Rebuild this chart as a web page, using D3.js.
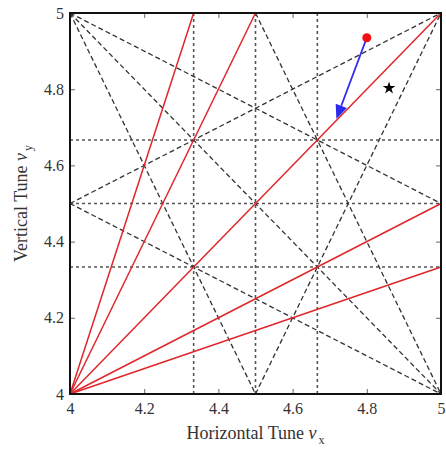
<!DOCTYPE html>
<html><head><meta charset="utf-8">
<script src="https://cdn.jsdelivr.net/npm/d3@7"></script>
<style>body{margin:0;background:#fff}</style>
</head><body><svg id="c" width="446" height="449"></svg>
<script>
// Data
const xTicks = [4, 4.2, 4.4, 4.6, 4.8, 5];
const yTicks = [4, 4.2, 4.4, 4.6, 4.8, 5];
// grid (integer/half/third resonances): vertical and horizontal
const gridX = [13/3, 4.5, 14/3];
const gridY = [13/3, 4.5, 14/3];
// black dashed resonance lines: [x1,y1,x2,y2]
const dashedLines = [
  [4, 5, 4.5, 4], [4, 5, 5, 4], [4, 5, 5, 4.5],
  [4, 4.5, 5, 5], [4, 4.5, 5, 4],
  [4.5, 4, 5, 5], [4.5, 5, 5, 4]
];
// red resonance lines from (4,4)
const redLines = [
  [4, 4, 13/3, 5], [4, 4, 4.5, 5], [4, 4, 5, 5], [4, 4, 5, 4.5], [4, 4, 5, 13/3]
];
const startPoint = [4.80, 4.935];
const arrowEnd = [4.718, 4.722];
const starPoint = [4.86, 4.803];

const svg = d3.select("#c");
const L = 70, R = 441, T = 13, B = 394;
const x = d3.scaleLinear().domain([4, 5]).range([L, R]);
const y = d3.scaleLinear().domain([4, 5]).range([B, T]);

const g = svg.append("g");
// grid
g.selectAll(".gx").data(gridX).join("line")
  .attr("x1", d => x(d)).attr("x2", d => x(d)).attr("y1", y(4)).attr("y2", y(5))
  .attr("stroke", "#555").attr("stroke-width", 1.6).attr("stroke-dasharray", "3,3");
g.selectAll(".gy").data(gridY).join("line")
  .attr("y1", d => y(d)).attr("y2", d => y(d)).attr("x1", x(4)).attr("x2", x(5))
  .attr("stroke", "#555").attr("stroke-width", 1.6).attr("stroke-dasharray", "3,3");
// dashed lines
g.selectAll(".dl").data(dashedLines).join("line")
  .attr("x1", d => x(d[0])).attr("y1", d => y(d[1])).attr("x2", d => x(d[2])).attr("y2", d => y(d[3]))
  .attr("stroke", "#333").attr("stroke-width", 1.3).attr("stroke-dasharray", "5,3");
// red lines
g.selectAll(".rl").data(redLines).join("line")
  .attr("x1", d => x(d[0])).attr("y1", d => y(d[1])).attr("x2", d => x(d[2])).attr("y2", d => y(d[3]))
  .attr("stroke", "#e0262b").attr("stroke-width", 1.5);

// arrow
const ax1 = x(startPoint[0]), ay1 = y(startPoint[1]), ax2 = x(arrowEnd[0]), ay2 = y(arrowEnd[1]);
const ang = Math.atan2(ay2 - ay1, ax2 - ax1);
const hl = 14, hw = 6;
const bx = ax2 - hl * Math.cos(ang), by = ay2 - hl * Math.sin(ang);
g.append("line").attr("x1", ax1).attr("y1", ay1).attr("x2", bx).attr("y2", by)
  .attr("stroke", "#2b2bf0").attr("stroke-width", 1.8);
g.append("path")
  .attr("d", `M${ax2},${ay2} L${bx + hw*Math.sin(ang)},${by - hw*Math.cos(ang)} L${bx - hw*Math.sin(ang)},${by + hw*Math.cos(ang)} Z`)
  .attr("fill", "#2b2bf0");
g.append("circle").attr("cx", ax1).attr("cy", ay1).attr("r", 4.5).attr("fill", "#f01010");
g.append("path").attr("d", d3.symbol(d3.symbolStar, 50)())
  .attr("transform", `translate(${x(starPoint[0])},${y(starPoint[1])})`).attr("fill", "#000");

// axes
const font = "Liberation Serif, Times New Roman, serif";
const ax = g.append("g").attr("transform", `translate(0,${B})`)
  .call(d3.axisBottom(x).tickValues(xTicks).tickFormat(d3.format("")).tickSizeInner(-5).tickSizeOuter(0).tickPadding(9));
const ay = g.append("g").attr("transform", `translate(${L},0)`)
  .call(d3.axisLeft(y).tickValues(yTicks).tickFormat(d3.format("")).tickSizeInner(-5).tickSizeOuter(0).tickPadding(6));
const axT = g.append("g").attr("transform", `translate(0,${T})`)
  .call(d3.axisTop(x).tickValues(xTicks).tickFormat("").tickSizeInner(-5).tickSizeOuter(0));
const ayR = g.append("g").attr("transform", `translate(${R},0)`)
  .call(d3.axisRight(y).tickValues(yTicks).tickFormat("").tickSizeInner(-5).tickSizeOuter(0));
[ax, ay, axT, ayR].forEach(a => {
  a.select(".domain").remove();
  a.selectAll(".tick line").attr("stroke", "#666");
  a.selectAll("text").attr("font-family", font).attr("font-size", 16).attr("fill", "#333");
});
g.append("rect").attr("x", L).attr("y", T).attr("width", R - L).attr("height", B - T)
  .attr("fill", "none").attr("stroke", "#111").attr("stroke-width", 2);

// labels
const xl = svg.append("text").attr("x", (L + R) / 2).attr("y", 439).attr("text-anchor", "middle")
  .attr("font-family", font).attr("font-size", 18).attr("fill", "#333");
xl.append("tspan").text("Horizontal Tune ");
xl.append("tspan").attr("font-style", "italic").text("ν");
xl.append("tspan").attr("font-size", 12).attr("dy", 5).attr("dx", 2).text("x");
const yl = svg.append("text").attr("transform", `translate(27,${(T + B) / 2}) rotate(-90)`).attr("text-anchor", "middle")
  .attr("font-family", font).attr("font-size", 18).attr("fill", "#333");
yl.append("tspan").text("Vertical Tune ");
yl.append("tspan").attr("font-style", "italic").text("ν");
yl.append("tspan").attr("font-size", 12).attr("dy", 5).attr("dx", 2).text("y");
</script></body></html>
